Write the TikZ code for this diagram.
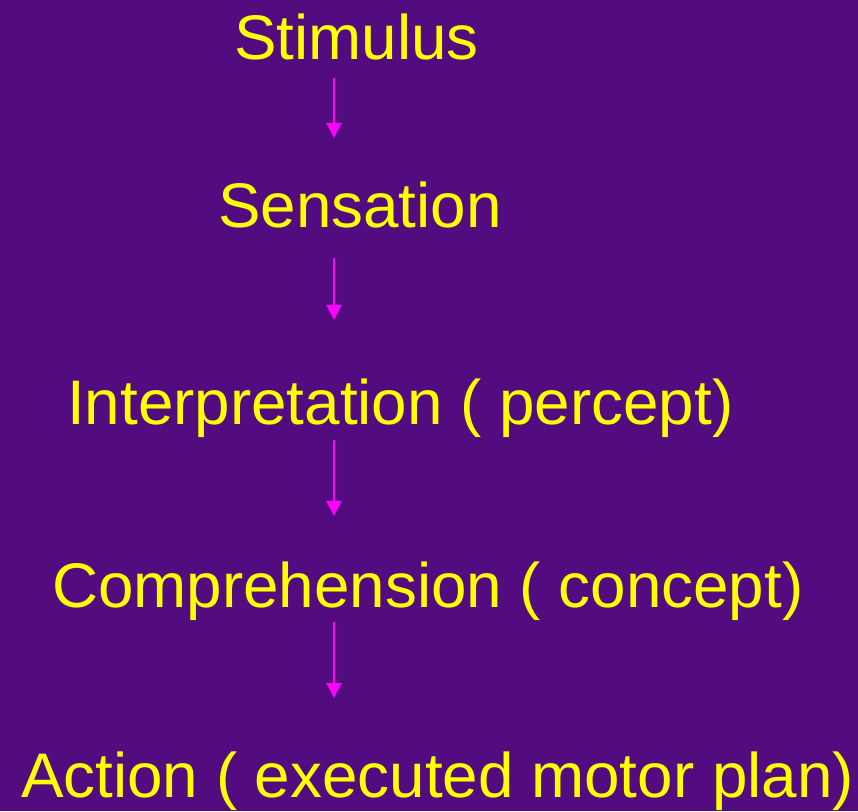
\documentclass[tikz,border=0pt]{standalone}
\usepackage{fontspec}
\setmainfont[FakeStretch=1.012]{Liberation Sans}
\usetikzlibrary{arrows.meta}
\definecolor{bgpurple}{RGB}{82,12,128}
\definecolor{txtyellow}{RGB}{255,255,0}
\definecolor{arrmagenta}{RGB}{255,0,255}
\begin{document}
\begin{tikzpicture}[x=1pt,y=1pt,
  lbl/.style={anchor=base west,inner sep=0pt,text=txtyellow,font=\fontsize{63}{70}\selectfont},
  arr/.style={draw=arrmagenta,line width=2pt,-{Triangle[width=15pt,length=15pt]}}]
\fill[bgpurple] (0,0) rectangle (858,811);
\useasboundingbox (0,0) rectangle (858,811);
\node[lbl] (stim) at (234,751) {Stimulus};
\node[lbl] (sens) at (218,583) {Sensation};
\node[lbl] (interp) at (67,386) {Interpretation ( percept)};
\node[lbl] (comp) at (52,204) {Comprehension ( concept)};
\node[lbl] (act) at (21,14) {Action ( executed motor plan)};
\coordinate (s1) at (334,733); \coordinate (e1) at (334,673);
\coordinate (s2) at (334,553); \coordinate (e2) at (334,491);
\coordinate (s3) at (334,371); \coordinate (e3) at (334,295);
\coordinate (s4) at (334,189); \coordinate (e4) at (334,113);
\draw[arr] (s1) -- (e1);
\draw[arr] (s2) -- (e2);
\draw[arr] (s3) -- (e3);
\draw[arr] (s4) -- (e4);
\end{tikzpicture}
\end{document}
